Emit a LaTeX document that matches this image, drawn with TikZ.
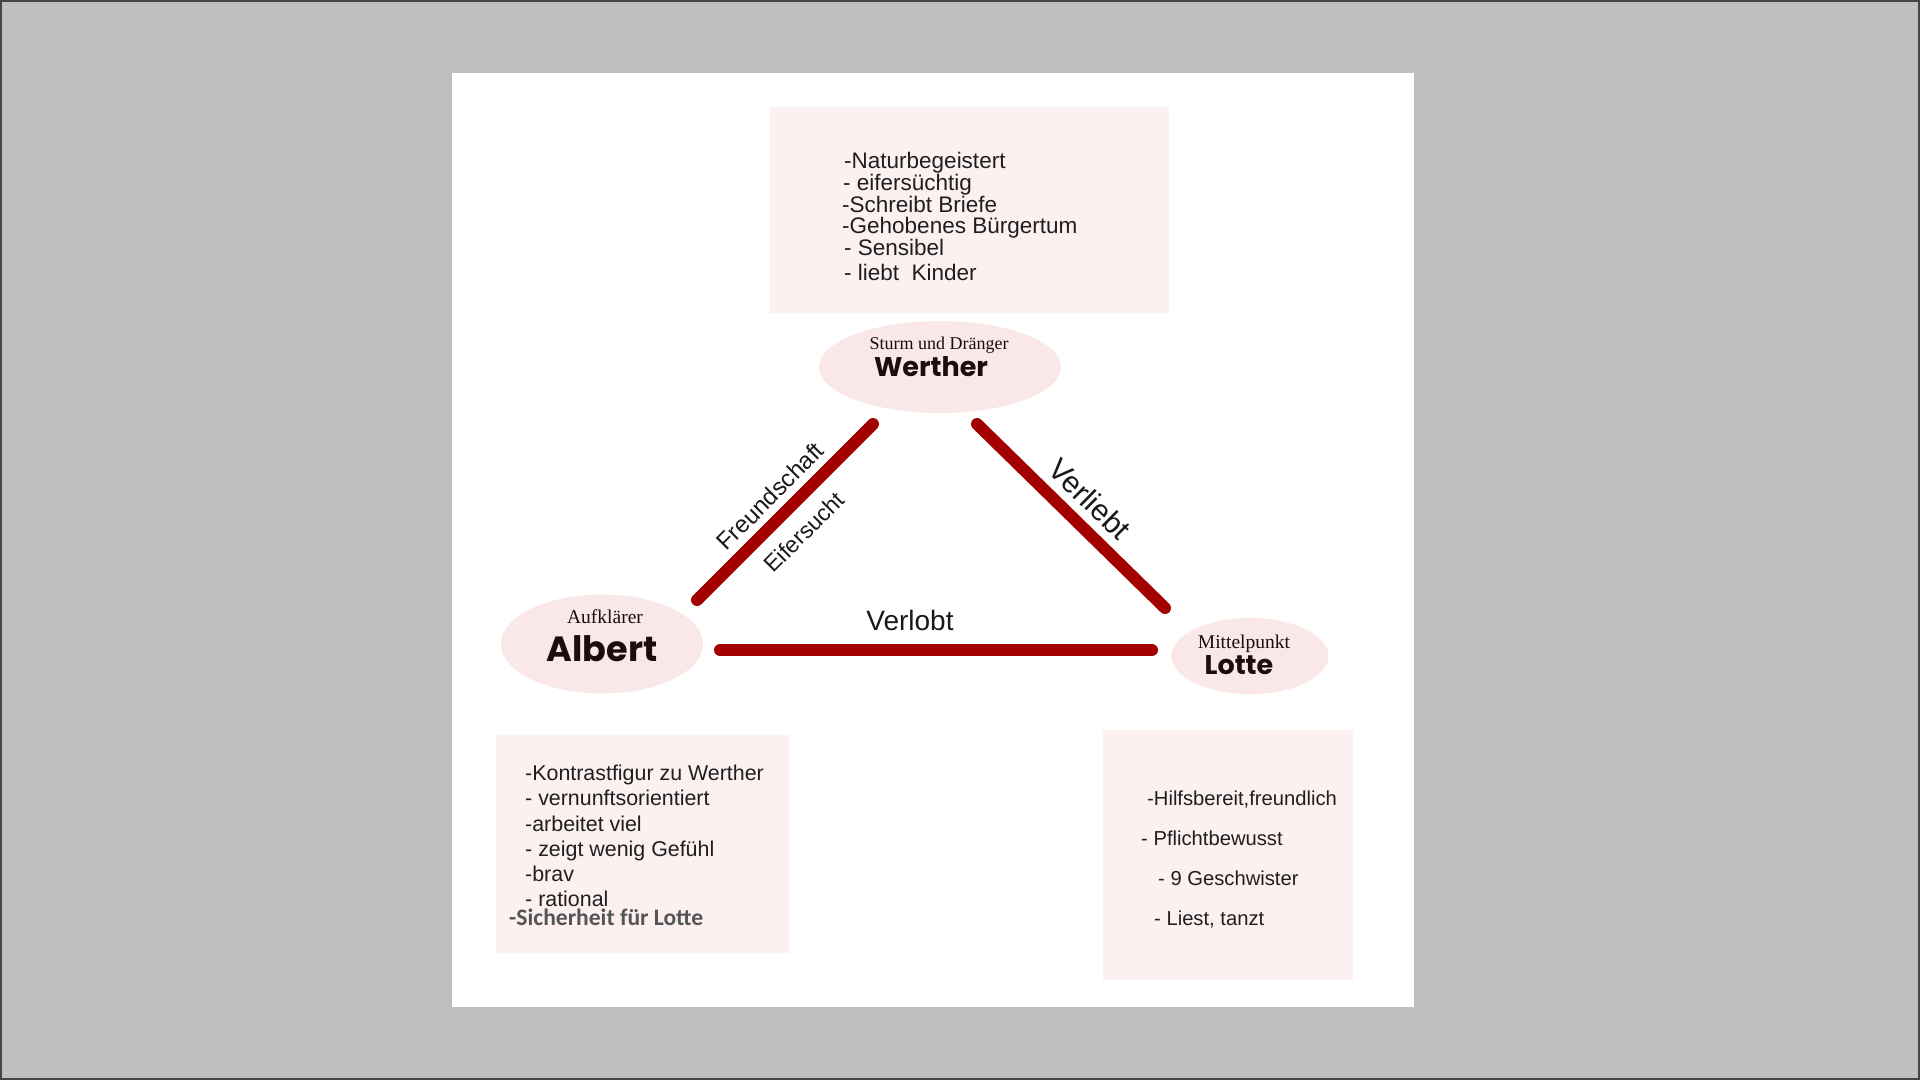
\documentclass[tikz,border=0pt]{standalone}
\usepackage{fontspec}
\usetikzlibrary{shapes.geometric}
\newfontfamily\arialf{Liberation Sans}
\newfontfamily\namef{Poppins}
\newfontfamily\serf{Liberation Serif}
\newfontfamily\carf{Carlito}
\definecolor{bggrey}{RGB}{191,191,191}
\definecolor{frameline}{RGB}{70,70,70}
\definecolor{boxpink}{RGB}{252,240,240}
\definecolor{ellpink}{RGB}{250,232,232}
\definecolor{relred}{RGB}{163,0,0}
\definecolor{namecol}{RGB}{30,12,12}
\definecolor{greytxt}{RGB}{85,85,85}
\tikzset{
  pinkbox/.style={fill=boxpink, draw=none, anchor=north west, inner sep=0pt},
  persona/.style={ellipse, fill=ellpink, draw=none, inner sep=0pt},
  rel/.style={line width=12pt, line cap=round, draw=relred},
  line22/.style={anchor=base west, inner sep=0pt, font=\arialf\fontsize{22.5}{26}\selectfont, text=black!88},
  line21/.style={anchor=base west, inner sep=0pt, font=\arialf\fontsize{21.4}{25}\selectfont, text=black!88},
  line20/.style={anchor=base west, inner sep=0pt, font=\arialf\fontsize{20.2}{24}\selectfont, text=black!88},
  smallserif/.style={anchor=base, inner sep=0pt, font=\serf\fontsize{#1}{#1}\selectfont, text=namecol},
  bigname/.style={anchor=base, inner sep=0pt, font=\namef\bfseries\fontsize{#1}{#1}\selectfont, text=namecol},
  rellabel/.style={inner sep=0pt, font=\arialf\fontsize{#1}{#1}\selectfont, text=black!90},
}
\begin{document}
\begin{tikzpicture}[x=1pt, y=-1pt]
\useasboundingbox (0,0) rectangle (1920,1080);
% background and panel
\fill[bggrey] (0,0) rectangle (1920,1080);
\draw[frameline, line width=2pt] (1,1) rectangle (1919,1079);
\fill[white] (452,73) rectangle (1414,1007);

% boxes
\node[pinkbox, minimum width=399pt, minimum height=206pt] (wbox) at (770,107) {};
\node[pinkbox, minimum width=293pt, minimum height=218pt] (abox) at (496,735) {};
\node[pinkbox, minimum width=250pt, minimum height=250pt] (lbox) at (1103,730) {};

% persona ellipses
\node[persona, minimum width=242pt, minimum height=92pt] (werther) at (940,367) {};
\node[persona, minimum width=202pt, minimum height=99pt] (albert) at (602,644) {};
\node[persona, minimum width=157pt, minimum height=76pt] (lotte) at (1250,656) {};

\node[smallserif=18] (wsub) at (939,349) {Sturm und Dränger};
\node[bigname=27] (wname) at (931,376) {Werther};
\node[smallserif=19.5] (asub) at (605,623) {Aufklärer};
\node[bigname=35] (aname) at (602,661) {Albert};
\node[smallserif=19.5] (lsub) at (1244,648) {Mittelpunkt};
\node[bigname=27] (lname) at (1239,674) {Lotte};

% relation lines
\coordinate (aw1) at (697,600);
\coordinate (aw2) at (873,424);
\coordinate (wl1) at (977,424);
\coordinate (wl2) at (1165,608);
\coordinate (al1) at (720,650);
\coordinate (al2) at (1152,650);
\draw[rel] (aw1) -- (aw2);
\draw[rel] (wl1) -- (wl2);
\draw[rel] (al1) -- (al2);

\node[rellabel=24, rotate=45] (freund) at (770,496) {Freundschaft};
\node[rellabel=23, rotate=45] (eifer) at (804,532) {Eifersucht};
\node[rellabel=30, rotate=-44.5] (verliebt) at (1090,499) {Verliebt};
\node[rellabel=28, anchor=base] (verlobt) at (910,630) {Verlobt};

% Werther text
\node[line22] (w1) at (844,168) {-Naturbegeistert};
\node[line22] (w2) at (843,190) {- eifersüchtig};
\node[line22] (w3) at (842,212) {-Schreibt Briefe};
\node[line22] (w4) at (842,233) {-Gehobenes Bürgertum};
\node[line22] (w5) at (844,255) {- Sensibel};
\node[line22] (w6) at (844,280) {- liebt\ \ Kinder};

% Albert text
\node[line21] (a1) at (525,780) {-Kontrastfigur zu Werther};
\node[line21] (a2) at (525,805) {- vernunftsorientiert};
\node[line21] (a3) at (525,831) {-arbeitet viel};
\node[line21] (a4) at (525,856) {- zeigt wenig Gefühl};
\node[line21] (a5) at (525,881) {-brav};
\node[line21] (a6) at (525,906) {- rational};
\node[anchor=base west, inner sep=0pt, font=\carf\bfseries\fontsize{23.6}{26}\selectfont, text=greytxt] (a7) at (509,925) {-Sicherheit für Lotte};

% Lotte text
\node[line20] (l1) at (1147,805) {-Hilfsbereit,freundlich};
\node[line20] (l2) at (1141,845) {- Pflichtbewusst};
\node[line20] (l3) at (1158,885) {- 9 Geschwister};
\node[line20] (l4) at (1154,925) {- Liest, tanzt};
\end{tikzpicture}
\end{document}
